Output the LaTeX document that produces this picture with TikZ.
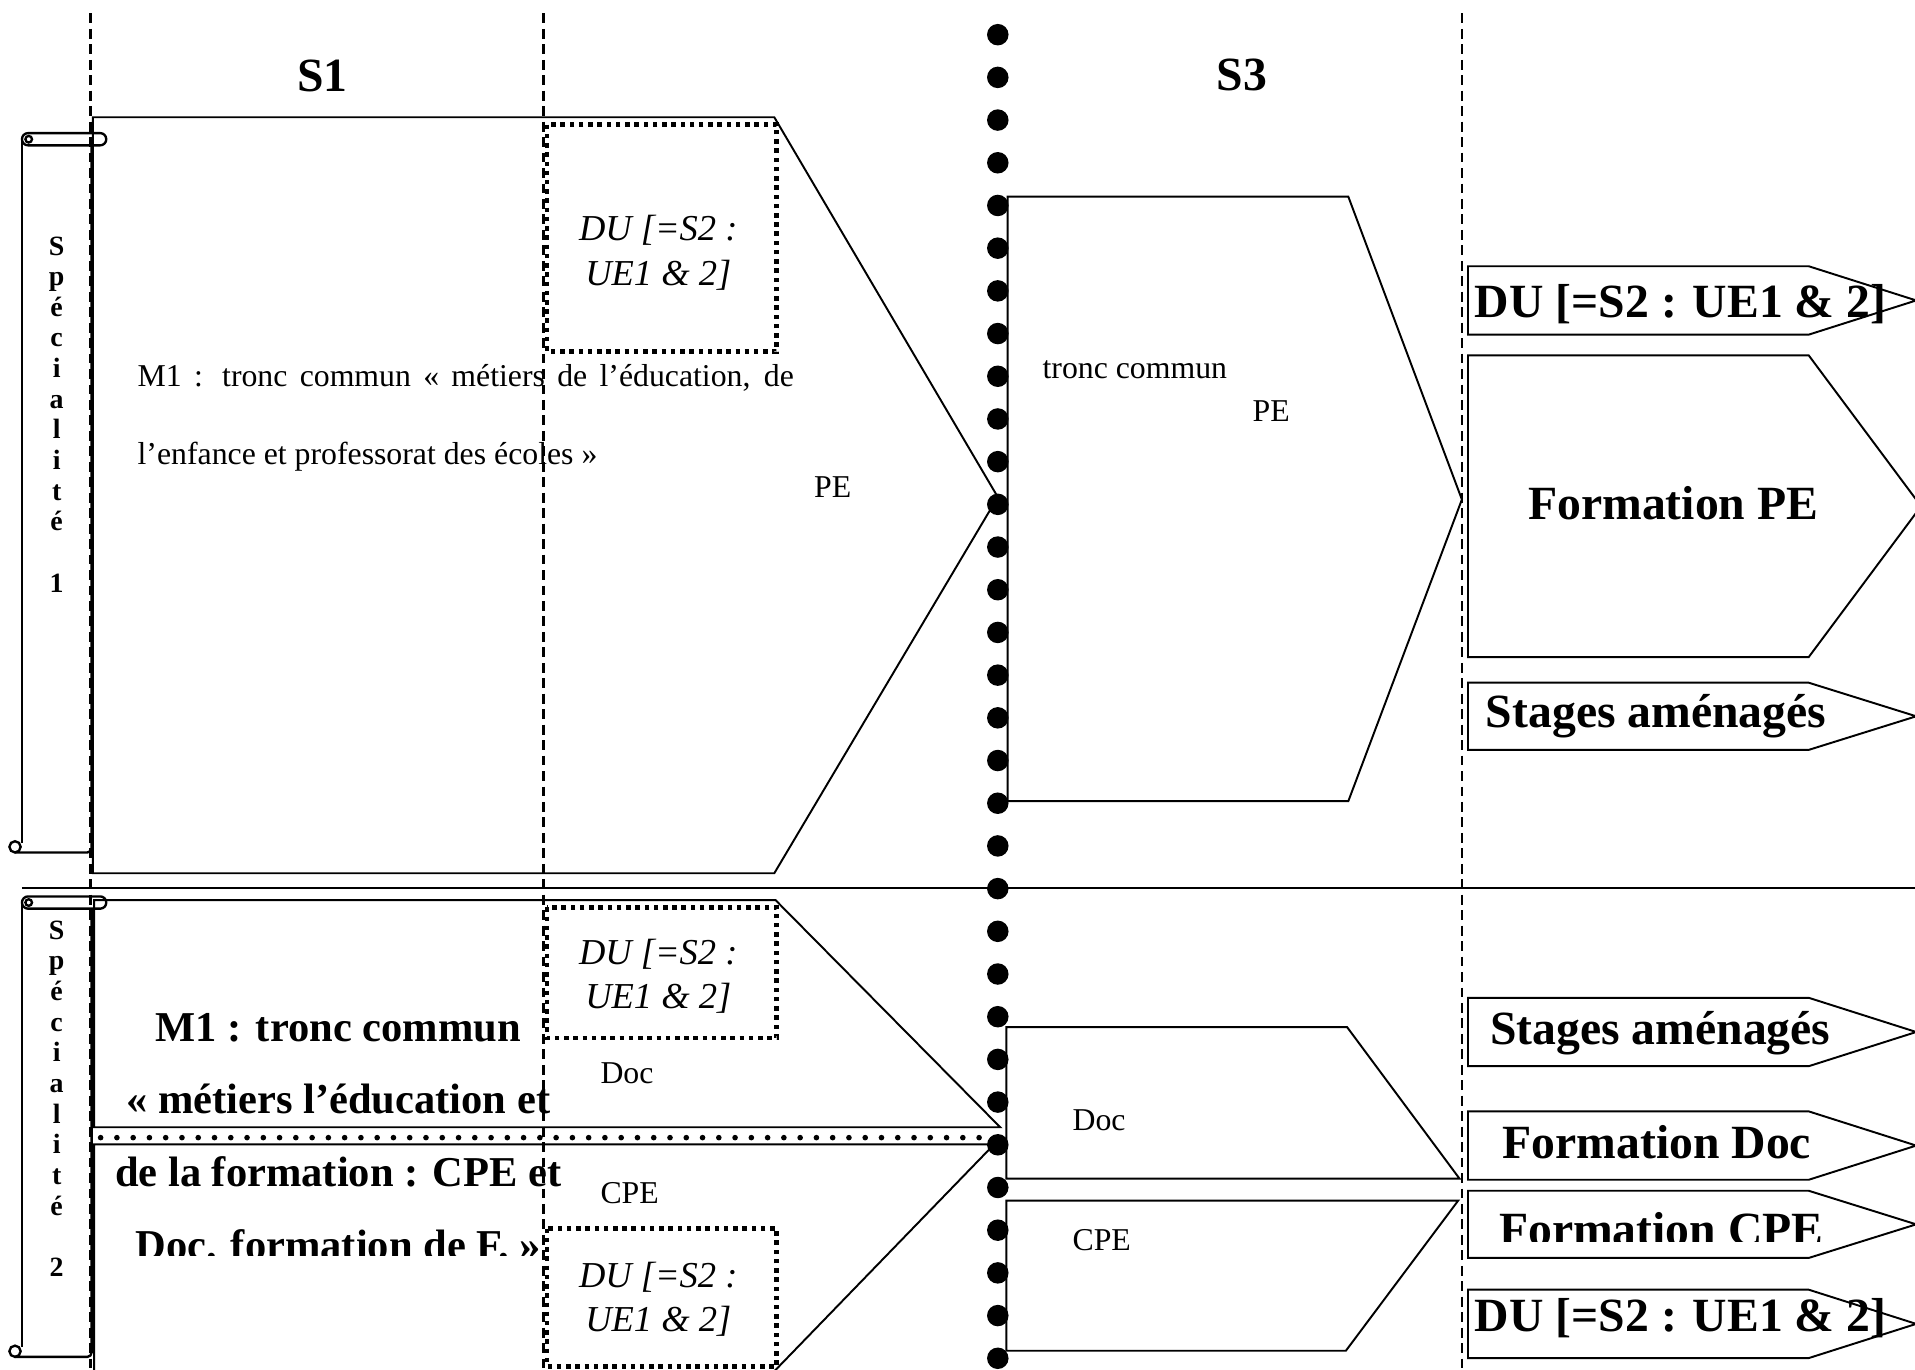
\documentclass[tikz,border=0pt]{standalone}
\usepackage{fontspec}
\setmainfont{Liberation Serif}

\begin{document}
\begin{tikzpicture}[x=0.01cm,y=-0.01cm,
	colsep/.style={line width=0.65pt,dash pattern=on 2.3pt off 1.3pt},
	pentline/.style={line width=0.45pt},
	scrollline/.style={line width=0.55pt},
	dubox/.style={line width=1.05pt,dash pattern=on 1.05pt off 1.1pt},
	txts/.style={font={\fontsize{7.4}{9}\selectfont},inner sep=0pt,anchor=base west},
	txti/.style={font={\fontsize{8.5}{10}\selectfont\itshape},inner sep=0pt,anchor=base},
	txtb/.style={font={\fontsize{11.1}{13}\selectfont\bfseries},inner sep=0pt,anchor=base west},
	txtm/.style={font={\fontsize{9.9}{12}\selectfont\bfseries},inner sep=0pt,anchor=base},
	vlet/.style={font={\fontsize{6.5}{7}\selectfont\bfseries},inner sep=0pt,anchor=base}]

\useasboundingbox (0,0) rectangle (1568,1121);

\foreach \x in {74,445,1197}
	\draw[colsep](\x,11)--(\x,1121);
\draw[line width=0.5pt](18,727)--(1568,727);

\foreach \t/\b in {109/698,734/1111}{
	\draw[scrollline,rounded corners=1.4pt](18,\t) rectangle (87,{\t+10});
	\draw[scrollline](23.5,{\t+5}) circle[radius=2.7];
	\draw[scrollline](18,{\t+5})--(18,{\b-8});
	\draw[scrollline,rounded corners=1pt](75,{\t+10})--(75,\b)--(12,\b);
	\draw[scrollline](12.3,{\b-4.6}) circle[radius=4.6];
}

\draw[pentline](76,96)--(634,96)--(817,407)--(634,715)--(76,715)--cycle;
\draw[pentline](77,737)--(635,737)--(819,923)--(77,923)--cycle;
\draw[pentline](77,1130)--(77,937)--(814,937)--(627,1130);

\draw[pentline](825,161)--(1104,161)--(1197,409)--(1104,656)--(825,656)--cycle;
\draw[pentline](824,841)--(1103,841)--(1195,965)--(824,965)--cycle;
\draw[pentline](824,983)--(1194,983)--(1102,1106)--(824,1106)--cycle;

\foreach \t/\b/\p in {218/274/1569,291/538/1573,559/614/1569,817/873/1569,910/966/1569,975/1030/1569,1056/1112/1569}
	\draw[pentline](1202,\t)--(1481,\t)--(\p,{(\t+\b)/2})--(1481,\b)--(1202,\b)--cycle;

\foreach \t/\b in {102/288,743/850,1006/1119}
	\draw[dubox](448,\t) rectangle (636,\b);

\node[txtb,anchor=base] (s1) at (264,75) {S1};
\node[txtb,anchor=base] (s3) at (1017,74.5) {S3};

\node[txts] (m1a) at (112,316.6) {\makebox[5.37cm][s]{M1 : tronc commun « métiers de l’éducation, de}};
\node[txts] (m1b) at (112,380.7) {l’enfance et professorat des écoles »};
\node[txts] (pe1) at (666,407) {PE};
\node[txts] (tc3) at (853,310) {tronc commun};
\node[txts] (pe3) at (1025,345) {PE};
\node[txts] (doc2) at (491,887) {Doc};
\node[txts] (cpe2) at (491,985.3) {CPE};
\node[txts] (doc3) at (877.5,925.8) {Doc};
\node[txts] (cpe3) at (877.5,1023.5) {CPE};

\foreach \n/\a/\b in {1/197/234,2/790/826,3/1054/1090}{
	\node[txti] (du\n-a) at (539,\a) {DU [=S2 :};
	\node[txti] (du\n-b) at (539,\b) {UE1 \& 2]};
}

\node[txtm] (spb1) at (277,853) {M1 : tronc commun};
\node[txtm] (spb2) at (277,912) {« métiers l’éducation et};
\node[txtm] (spb3) at (277,971.5) {de la formation : CPE et};
\begin{scope}
	\clip (90,990) rectangle (460,1028);
	\node[txtm] (spb4) at (277,1031) {Doc. formation de F. »};
\end{scope}

\node[txtb] (du4) at (1207,259.8) {DU [=S2 : UE1 \& 2]};
\node[txtb,anchor=base] (fpe) at (1370,425) {Formation PE};
\node[txtb] (st1) at (1216,596) {Stages aménagés};
\node[txtb] (st2) at (1219.5,855.6) {Stages aménagés};
\node[txtb] (fdoc) at (1229.6,948.4) {Formation Doc};
\begin{scope}
	\clip (1205,960) rectangle (1520,1016.7);
	\node[txtb] (fcpe) at (1226.8,1020.2) {Formation CPE};
\end{scope}
\node[txtb] (du5) at (1207,1090.3) {DU [=S2 : UE1 \& 2]};

\foreach \k/\y in {1/208.8,2/769}{
	\foreach \l [count=\i] in {S,p,é,c,i,a,l,i,t,é}
		\node[vlet] (spe\k-\i) at (46.4,{\y+25.1*(\i-1)}) {\l};
	\node[vlet] (spe\k-n) at (46.4,{\y+25.1*11}) {\k};
}

\foreach \k in {0,...,54}
	\fill({82.4+13.32*\k},931.5) circle[radius=2.3];
\foreach \k in {0,...,31}
	\fill(817,{28.4+34.96*\k}) circle[radius=8.8];

\end{tikzpicture}
\end{document}
